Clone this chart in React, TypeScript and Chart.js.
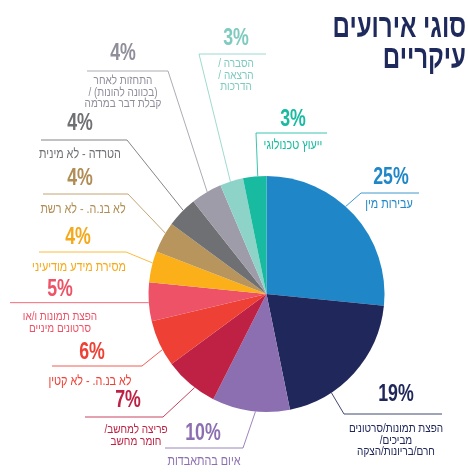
import React, { useEffect, useRef } from "react";
import { Chart, registerables } from "chart.js";

Chart.register(...registerables);

const titleLines = ["סוגי אירועים", "עיקריים"];

const categories = [
  "עבירות מין",
  "הפצת תמונות/סרטונים מביכים/ חרם/בריונות/הצקה",
  "איום בהתאבדות",
  "פריצה למחשב/ חומר מחשב",
  "לא בנ.ה. - לא קטין",
  "הפצת תמונות ו/או סרטונים מיניים",
  "מסירת מידע מודיעיני",
  "לא בנ.ה. - לא רשת",
  "הטרדה - לא מינית",
  "התחזות לאחר (בכוונה להונות) / קבלת דבר במרמה",
  "הסברה / הרצאה / הדרכות",
  "ייעוץ טכנולוגי",
];

// label lines as they are drawn (right-to-left text)
const labelLines = [
  ["עבירות מין"],
  ["הפצת תמונות/סרטונים", "/מביכים", "חרם/בריונות/הצקה"],
  ["איום בהתאבדות"],
  ["/פריצה למחשב", "חומר מחשב"],
  ["לא בנ.ה. - לא קטין"],
  ["הפצת תמונות ו/או", "סרטונים מיניים"],
  ["מסירת מידע מודיעיני"],
  ["לא בנ.ה. - לא רשת"],
  ["הטרדה - לא מינית"],
  ["התחזות לאחר", "/ (בכוונה להונות)", "קבלת דבר במרמה"],
  ["/ הסברה", "/ הרצאה", "הדרכות"],
  ["ייעוץ טכנולוגי"],
];

const values = [25, 19, 10, 7, 6, 5, 4, 4, 4, 4, 3, 3];

const sliceColors = [
  "#1f87c8", "#20285b", "#8c6fb1", "#be2143", "#ee4034", "#ee5266",
  "#fbb01a", "#b8955c", "#6f7073", "#9d9ca8", "#8ed3c8", "#19bba0",
];

const textColors = [
  "#1f87c8", "#20285b", "#8c6fb1", "#be2143", "#ee4034", "#ee5266",
  "#f5a91a", "#b08d55", "#6f7073", "#8f8e9b", "#7fcbbf", "#19bba0",
];

// label placement (layout only)
const labelLayout = [
  { cx: 391, tx: 389, pctY: 177, lineY: 193, farX: 419, elbowX: 361, textY: 204, frac: 0.44 },
  { cx: 396, tx: 396, pctY: 394, lineY: 414, farX: 442, elbowX: 344, textY: 429, frac: 0.70 },
  { cx: 203, tx: 204, pctY: 433, lineY: 448, farX: 165, elbowX: 243, textY: 461, frac: 0.44 },
  { cx: 128, tx: 136, pctY: 400, lineY: 417, farX: 85, elbowX: 163, textY: 430, frac: 0.40 },
  { cx: 92, tx: 90, pctY: 352, lineY: 366, farX: 52, elbowX: 142, textY: 381, frac: 0.36 },
  { cx: 60, tx: 60, pctY: 289, lineY: null, farX: 10, elbowX: null, textY: 317, frac: 0.48 },
  { cx: 78, tx: 79, pctY: 237, lineY: 252, farX: 39, elbowX: 126, textY: 267, frac: 0.62 },
  { cx: 80, tx: 83, pctY: 178, lineY: 194, farX: 43, elbowX: 128, textY: 209, frac: 0.65 },
  { cx: 80, tx: 80, pctY: 123, lineY: 140, farX: 41, elbowX: 127, textY: 154, frac: 0.57 },
  { cx: 123, tx: 123, pctY: 53, lineY: 71, farX: 87, elbowX: 168, textY: 81, frac: 0.53 },
  { cx: 236, tx: 236, pctY: 38, lineY: 54, farX: 266, elbowX: 199, textY: 64, frac: 0.45 },
  { cx: 293, tx: 293, pctY: 119, lineY: 133, farX: 327, elbowX: 256, textY: 145, frac: 0.63 },
];

const FONT = "'Liberation Sans', 'DejaVu Sans', sans-serif";

function drawCondensed(
  ctx: CanvasRenderingContext2D,
  text: string,
  x: number,
  y: number,
  sx: number,
  align: "center" | "right",
  baseline: "middle" | "alphabetic" = "middle"
) {
  ctx.save();
  ctx.translate(x, y);
  ctx.scale(sx, 1);
  ctx.textAlign = align;
  ctx.textBaseline = baseline;
  ctx.fillText(text, 0, 0);
  ctx.restore();
}

const labelsPlugin = {
  id: "outerLabels",
  afterDraw(chart: any) {
    const ctx: CanvasRenderingContext2D = chart.ctx;
    const meta = chart.getDatasetMeta(0);
    meta.data.forEach((arc: any, i: number) => {
      const { x, y, startAngle, endAngle, outerRadius } = arc.getProps(
        ["x", "y", "startAngle", "endAngle", "outerRadius"],
        true
      );
      const L = labelLayout[i];
      const a = startAngle + L.frac * (endAngle - startAngle);
      const ax = x + outerRadius * Math.cos(a);
      const ay = y + outerRadius * Math.sin(a);
      const ly = L.lineY == null ? ay : L.lineY;
      const ex = L.elbowX == null ? ax : L.elbowX;
      ctx.save();
      ctx.strokeStyle = sliceColors[i];
      ctx.globalAlpha = 0.85;
      ctx.lineWidth = 1;
      ctx.beginPath();
      ctx.moveTo(ax, ay);
      ctx.lineTo(ex, ly);
      ctx.lineTo(L.farX, ly);
      ctx.stroke();
      ctx.restore();

      ctx.save();
      ctx.fillStyle = textColors[i];
      ctx.font = `bold 24px ${FONT}`;
      drawCondensed(ctx, `${values[i]}%`, L.cx, L.pctY, 0.74, "center");
      const lines = labelLines[i];
      const multi = lines.length > 1;
      ctx.font = `${multi ? 12.5 : 13.5}px ${FONT}`;
      lines.forEach((ln, k) => {
        drawCondensed(ctx, ln, L.tx, L.textY + k * 11.2, multi ? 0.8 : 0.8, "center");
      });
      ctx.restore();
    });

    ctx.save();
    ctx.fillStyle = "#1f2a5c";
    ctx.font = `bold 33px ${FONT}`;
    titleLines.forEach((t, k) => {
      drawCondensed(ctx, t, 466, 37 + k * 31, 0.73, "right", "alphabetic");
    });
    ctx.restore();
  },
};

export default function App() {
  const ref = useRef<HTMLCanvasElement | null>(null);
  useEffect(() => {
    if (!ref.current) return;
    const chart = new Chart(ref.current, {
      type: "pie",
      data: {
        labels: categories,
        datasets: [
          {
            data: values,
            backgroundColor: sliceColors,
            borderWidth: 0,
            offset: 0,
            hoverOffset: 0,
          },
        ],
      },
      options: {
        responsive: false,
        animation: false,
        layout: { padding: { left: 148, right: 83, top: 176, bottom: 60 } },
        plugins: {
          legend: { display: false },
          tooltip: { enabled: false },
          title: { display: false },
        },
      },
      plugins: [labelsPlugin],
    });
    return () => chart.destroy();
  }, []);
  return (
    <div style={{ position: "absolute", left: 0, top: 0, width: 468, height: 472, background: "#fff" }}>
      <canvas ref={ref} width={468} height={472} style={{ display: "block" }} />
    </div>
  );
}
